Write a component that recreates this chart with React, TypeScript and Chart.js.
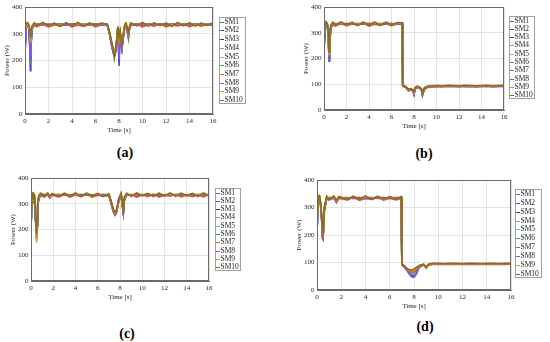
import React, { useEffect, useRef } from "react";
import { Chart, registerables } from "chart.js";
Chart.register(...registerables);

const SERIES_LABELS = ["SM1", "SM2", "SM3", "SM4", "SM5", "SM6", "SM7", "SM8", "SM9", "SM10"];
const SERIES_COLORS = ["#5468B4", "#3F4FD8", "#2E3A8C", "#8898E0", "#6CBEE6", "#3DAA3A", "#E8561C", "#8A4FE6", "#C9A227", "#8C6A1E"];
const X_TICKS = [0, 2, 4, 6, 8, 10, 12, 14, 16];
const Y_TICKS = [0, 100, 200, 300, 400];
const X_TITLE = "Time [s]";
const Y_TITLE = "Power (W)";

// ---------- panel (a) ----------
const T_A = [0,0.1,0.2,0.3,0.4,0.45,0.5,0.6,0.8,1,1.5,2,2.5,3,3.5,4,4.5,5,5.5,6,6.5,7,7.2,7.4,7.5,7.6,7.7,7.8,7.9,8,8.1,8.25,8.4,8.5,8.6,8.8,8.9,9,9.5,10,10.5,11,11.5,12,12.5,13,13.5,14,14.5,15,15.5,16];
const A_SM1 = [230,333,335,332,290,250,285,325,334,335,333,335,334,336,333,335,334,336,333,335,334,333,300,255,235,225,235,270,318,260,300,248,302,330,334,292,324,335,334,336,333,335,334,336,333,335,334,336,333,335,334,335];
const A_SM2 = [220,332,336,330,250,162,240,318,333,336,334,333,335,334,336,333,335,334,336,333,335,334,298,250,230,218,232,268,320,180,296,244,300,331,335,290,322,333,336,334,333,335,334,336,333,335,334,333,336,334,335,333];
const A_SM3 = [240,334,333,331,270,205,260,322,335,334,336,332,334,335,333,336,334,333,335,334,336,333,302,258,238,222,238,272,322,215,298,246,303,330,334,293,324,335,334,336,334,333,335,333,336,334,335,336,333,335,334,336];
const A_SM4 = [250,333,336,333,280,225,270,324,334,336,333,335,336,333,335,334,336,333,334,336,333,335,301,256,236,224,236,270,319,235,302,250,305,332,335,295,323,334,336,333,335,336,333,335,334,336,333,335,334,336,333,335];
const A_SM5 = [245,335,334,330,275,215,265,320,336,333,335,334,333,336,334,335,333,336,335,333,334,336,299,252,232,220,234,268,321,245,304,252,301,331,334,296,321,336,333,335,334,336,335,333,334,335,336,333,335,334,336,333];
const A_SM6 = [235,332,335,331,265,190,255,316,333,335,334,336,333,335,336,334,333,335,336,334,333,335,300,254,234,216,230,266,317,250,300,247,298,330,333,280,318,333,335,334,336,334,333,335,336,333,334,336,335,333,334,336];
const A_SM7 = [280,330,338,326,300,238,290,322,332,326,336,325,334,328,337,326,333,327,336,326,334,331,296,248,240,236,242,262,316,262,302,250,300,328,332,288,318,330,336,326,334,328,337,326,333,329,336,327,334,328,335,330];
const A_SM8 = [225,334,333,332,270,198,250,320,335,334,335,333,336,334,333,336,334,333,335,336,334,333,301,253,233,221,233,269,320,205,297,245,301,331,335,291,322,334,335,333,336,334,335,333,336,334,333,335,334,336,333,335];
const A_SM9 = [300,336,340,330,310,270,300,326,338,331,340,330,339,332,340,331,338,333,340,330,339,334,305,262,242,228,240,275,324,275,306,255,306,334,338,300,326,338,331,340,332,339,330,340,333,338,331,340,332,339,331,340];
const A_SM10 = [320,340,342,336,320,290,310,330,341,329,342,331,340,328,341,330,342,329,341,331,340,336,308,265,245,208,235,278,328,285,310,258,310,336,340,305,328,341,330,342,329,341,331,340,328,342,330,341,329,340,331,341];

// ---------- panel (b) ----------
const T_B = [0,0.1,0.2,0.3,0.4,0.45,0.5,0.6,0.8,1,1.5,2,2.5,3,3.5,4,4.5,5,5.5,6,6.5,6.95,7,7.1,7.3,7.5,7.7,7.9,8,8.1,8.3,8.5,8.65,8.75,8.9,9.1,9.5,10,10.5,11,11.5,12,12.5,13,13.5,14,14.5,15,15.5,16];
const B_SM1 = [240,322,336,331,265,200,255,322,335,334,336,333,335,334,336,333,335,334,336,333,335,334,94,92,88,78,80,76,66,83,90,86,81,62,81,88,91,92,91,93,92,91,93,92,91,92,93,91,92,93];
const B_SM2 = [230,320,335,330,255,190,250,318,334,336,333,335,334,336,333,335,334,336,333,335,334,336,93,91,87,76,79,75,60,82,89,85,80,58,80,87,92,91,93,92,91,93,92,91,93,92,91,93,92,91];
const B_SM3 = [250,324,334,332,270,205,260,324,336,333,335,334,336,333,335,336,333,335,334,336,333,335,95,93,89,79,81,77,64,84,91,87,82,60,82,89,91,93,92,91,93,92,91,93,92,91,93,92,91,92];
const B_SM4 = [245,321,337,330,262,198,258,321,334,335,334,336,333,335,334,333,336,334,335,333,336,334,92,92,88,77,80,76,65,83,90,86,81,61,81,88,92,92,91,93,92,91,92,93,91,92,93,91,93,92];
const B_SM5 = [255,323,335,331,268,202,262,323,335,334,333,335,336,334,333,335,334,336,333,335,334,333,94,91,87,78,81,77,67,84,89,85,80,63,80,87,91,93,92,91,93,92,91,92,93,91,92,93,92,91];
const B_SM6 = [235,320,336,329,260,195,252,319,333,336,335,333,334,336,335,334,333,335,336,334,335,336,93,92,88,77,79,75,63,82,90,86,81,59,81,88,92,91,93,92,91,93,92,91,92,93,91,92,93,92];
const B_SM7 = [290,318,338,326,280,210,270,316,332,326,336,327,334,329,337,326,333,328,336,327,334,331,92,90,86,74,78,73,62,80,88,84,79,57,79,86,90,91,90,92,91,90,92,91,90,91,92,90,91,92];
const B_SM8 = [238,322,334,332,266,196,256,321,335,333,334,336,335,333,334,336,335,333,334,336,333,335,94,92,88,78,80,76,61,83,90,86,81,60,81,88,91,92,93,91,92,93,91,92,91,93,92,91,92,93];
const B_SM9 = [280,326,340,334,285,215,275,326,339,331,340,330,339,332,340,331,338,333,340,330,339,338,95,94,90,80,82,78,68,86,92,88,83,64,84,90,93,94,93,95,94,93,95,94,93,94,95,93,94,95];
const B_SM10 = [300,330,342,336,295,225,285,330,341,329,342,331,340,328,341,330,342,329,341,331,340,339,96,94,90,81,83,79,70,87,93,89,84,66,85,91,94,95,94,96,95,94,96,95,94,95,96,94,95,96];

// ---------- panel (c) ----------
const T_C = [0,0.1,0.2,0.25,0.3,0.4,0.5,0.55,0.6,0.7,0.9,1.2,1.5,1.7,1.9,2.5,3,3.5,4,4.5,5,5.5,6,6.5,7,7.2,7.4,7.55,7.7,7.9,8.1,8.2,8.3,8.4,8.6,9,9.5,10,10.5,11,11.5,12,12.5,13,13.5,14,14.5,15,15.5,16];
const C_SM1 = [205,334,331,306,331,252,178,222,292,326,335,334,333,326,335,334,336,333,335,334,336,333,335,334,333,306,273,262,273,316,334,301,268,321,335,334,336,333,335,334,336,333,335,334,336,333,335,334,336,333];
const C_SM2 = [200,333,332,304,330,248,170,218,288,324,334,336,334,325,336,333,335,334,336,333,335,334,336,333,334,304,271,258,270,314,333,298,264,319,334,336,333,335,334,336,333,335,336,334,333,335,336,333,334,335];
const C_SM3 = [210,335,330,308,332,255,182,225,294,327,336,333,335,327,334,336,333,335,334,336,333,335,334,336,335,307,274,263,274,317,335,302,270,322,336,333,335,334,336,333,335,334,333,336,335,334,333,335,336,334];
const C_SM4 = [215,334,333,305,331,250,176,220,290,325,335,334,336,326,333,335,334,336,333,335,334,336,333,335,334,305,272,261,272,315,334,300,267,320,335,334,336,335,333,335,334,336,334,333,335,336,334,333,335,336];
const C_SM5 = [208,336,331,307,330,253,180,224,293,326,333,335,334,328,336,334,335,333,336,334,335,333,336,334,333,306,273,262,273,316,336,301,269,321,334,335,333,336,334,336,335,333,335,336,334,333,335,336,333,335];
const C_SM6 = [202,333,332,303,329,245,165,215,286,323,334,336,333,324,335,333,336,334,335,333,336,334,335,333,336,303,270,257,269,313,333,297,263,318,335,333,334,336,335,333,336,334,333,335,336,334,333,335,334,336];
const C_SM7 = [250,330,338,300,334,240,160,210,284,320,332,326,336,322,333,327,336,326,334,328,337,326,333,329,331,300,268,255,267,311,330,295,262,316,332,336,326,334,328,337,326,333,329,336,327,334,328,335,327,336];
const C_SM8 = [212,335,333,306,331,251,172,219,289,325,335,333,335,325,334,336,334,333,335,336,334,333,335,336,334,305,272,260,271,315,335,300,266,320,336,334,335,333,336,334,333,335,334,336,333,335,334,336,335,333];
const C_SM9 = [240,337,340,310,336,258,150,228,296,330,339,331,340,327,338,332,340,331,339,330,340,332,338,331,336,309,276,265,276,319,338,304,272,324,339,331,340,332,339,330,340,331,338,333,340,330,339,332,340,331];
const C_SM10 = [260,341,342,314,338,262,185,232,300,333,341,329,342,330,340,328,341,330,342,329,341,331,340,328,338,312,278,268,278,322,341,306,275,327,341,329,342,331,340,328,341,330,342,329,341,331,340,328,342,330];

// ---------- panel (d) ----------
const T_D = [0,0.1,0.2,0.3,0.4,0.45,0.5,0.6,0.8,1,1.4,1.6,1.8,2.5,3,3.5,4,4.5,5,5.5,6,6.5,6.95,7,7.2,7.4,7.6,7.8,8,8.2,8.4,8.6,8.8,9,9.2,9.5,10,10.5,11,11.5,12,12.5,13,13.5,14,14.5,15,15.5,16];
const D_SM1 = [212,337,339,311,252,198,194,292,335,334,336,322,334,336,333,335,334,336,333,335,334,336,335,93,86,76,68,60,58,68,84,90,92,84,93,94,95,94,95,94,95,94,95,94,95,94,95,94,95];
const D_SM2 = [208,336,340,309,248,192,188,288,334,336,335,320,335,334,336,333,335,334,336,333,335,334,336,92,85,74,62,52,50,62,82,89,92,82,92,94,95,95,94,95,94,95,95,94,95,95,94,95,94];
const D_SM3 = [215,338,338,312,255,200,196,294,336,333,334,323,336,333,335,334,336,333,335,334,336,333,334,93,86,75,64,55,54,65,83,90,91,83,93,95,94,95,95,94,95,95,94,95,94,95,95,94,95];
const D_SM4 = [210,337,341,310,250,196,192,290,335,335,336,321,333,335,334,336,333,335,334,336,333,335,336,92,86,75,66,58,56,66,84,89,92,84,92,94,95,94,94,95,95,94,95,95,94,94,95,95,94];
const D_SM5 = [218,336,339,313,256,202,198,295,334,336,333,324,335,336,333,334,335,336,334,333,335,336,333,93,87,76,69,62,60,69,85,90,91,85,93,95,94,94,95,95,94,94,95,94,95,95,94,94,95];
const D_SM6 = [205,338,340,308,246,190,186,286,336,334,335,319,334,333,336,335,334,333,336,334,336,334,335,92,85,75,68,63,62,70,85,89,92,83,93,94,95,95,94,94,95,95,94,95,95,94,94,95,95];
const D_SM7 = [240,334,342,305,245,186,182,284,332,327,336,318,334,328,337,326,333,329,336,327,334,328,333,91,83,72,67,66,68,74,84,88,90,80,91,93,94,93,94,93,94,93,94,93,94,93,94,93,94];
const D_SM8 = [213,337,338,311,253,197,190,291,335,333,334,322,336,335,334,336,333,335,334,336,333,335,334,92,84,72,58,48,46,58,80,88,91,84,92,95,94,95,94,95,95,94,94,95,95,94,95,94,95];
const D_SM9 = [230,339,341,315,258,205,200,298,339,331,340,325,339,332,340,331,338,333,340,330,339,332,338,94,88,78,72,70,74,80,87,91,93,79,94,96,96,95,96,96,95,96,96,95,96,96,95,96,96];
const D_SM10 = [250,341,342,318,262,210,205,302,341,329,342,327,340,328,341,330,342,329,341,331,340,330,340,95,89,79,74,73,76,82,88,92,94,82,95,97,97,96,97,97,96,97,97,96,97,97,96,97,97];

const FONT_FAMILY = '"Liberation Serif", "Times New Roman", serif';
const TEXT_COLOR = "#262626";
const GRID_COLOR = "#e4e4e4";
const AXIS_COLOR = "#6a6a6a";

const boxPlugin = {
  id: "axesBox",
  afterDraw(chart: any) {
    const { ctx, chartArea } = chart;
    ctx.save();
    ctx.strokeStyle = AXIS_COLOR;
    ctx.lineWidth = 1;
    ctx.strokeRect(
      Math.round(chartArea.left) + 0.5,
      Math.round(chartArea.top) + 0.5,
      Math.round(chartArea.right - chartArea.left) - 1,
      Math.round(chartArea.bottom - chartArea.top) - 1
    );
    ctx.restore();
  },
};

const legendPlugin = {
  id: "boxLegend",
  afterDraw(chart: any, _args: any, opts: any) {
    const { ctx } = chart;
    const [x0, y0, x1, y1] = opts.rect;
    ctx.save();
    ctx.fillStyle = "#ffffff";
    ctx.fillRect(x0, y0, x1 - x0, y1 - y0);
    ctx.strokeStyle = "#a0a0a0";
    ctx.lineWidth = 1;
    ctx.strokeRect(x0 + 0.5, y0 + 0.5, x1 - x0 - 1, y1 - y0 - 1);
    const ds = chart.data.datasets;
    const rowH = (y1 - y0) / ds.length;
    ctx.font = `7.5px ${FONT_FAMILY}`;
    ctx.textBaseline = "middle";
    ctx.textAlign = "left";
    ds.forEach((d: any, i: number) => {
      const cy = y0 + (i + 0.55) * rowH;
      const ly = Math.round(cy) + 0.5;
      ctx.strokeStyle = d.borderColor;
      ctx.lineWidth = 1;
      ctx.beginPath();
      ctx.moveTo(x0 + 1, ly);
      ctx.lineTo(x0 + 5, ly);
      ctx.stroke();
      ctx.fillStyle = TEXT_COLOR;
      ctx.fillText(d.label, x0 + 5.5, cy);
    });
    ctx.restore();
  },
};

type PanelProps = {
  time: number[];
  series: number[][];
  plot: [number, number, number, number];
  legend: [number, number, number, number];
};

function Panel({ time, series, plot, legend }: PanelProps) {
  const ref = useRef<HTMLCanvasElement>(null);
  const [l, t, r, b] = plot;
  const cLeft = l - 22;
  const cTop = t - 7;
  const cW = legend[2] + 3 - cLeft;
  const cH = b + 21 - cTop;

  useEffect(() => {
    if (!ref.current) return;
    const tickFont = { family: FONT_FAMILY, size: 7 };
    const chart = new Chart(ref.current, {
      type: "line",
      data: {
        datasets: series.map((vals, i) => ({
          label: SERIES_LABELS[i],
          data: time.map((x, j) => ({ x, y: vals[j] })),
          borderColor: SERIES_COLORS[i],
          backgroundColor: SERIES_COLORS[i],
          borderWidth: 1.6,
          pointRadius: 0,
          tension: 0,
          order: 9 - i,
        })),
      },
      options: {
        animation: false,
        responsive: false,
        maintainAspectRatio: false,
        devicePixelRatio: 1,
        layout: { padding: { left: 0, top: 7, right: cW - (r - cLeft), bottom: 1 } },
        plugins: {
          legend: { display: false },
          tooltip: { enabled: false },
          boxLegend: {
            rect: [legend[0] - cLeft, legend[1] - cTop, legend[2] - cLeft, legend[3] - cTop],
          },
        } as any,
        scales: {
          x: {
            type: "linear",
            min: 0,
            max: 16,
            afterBuildTicks: (s: any) => {
              s.ticks = X_TICKS.map((v) => ({ value: v }));
            },
            afterFit: (s: any) => {
              s.height = 20;
            },
            grid: { color: GRID_COLOR, drawTicks: false },
            border: { color: AXIS_COLOR },
            ticks: { padding: 3, font: tickFont, color: TEXT_COLOR, maxRotation: 0, autoSkip: false },
            title: { display: true, text: X_TITLE, padding: 0, font: tickFont, color: TEXT_COLOR },
          },
          y: {
            type: "linear",
            min: 0,
            max: 400,
            afterBuildTicks: (s: any) => {
              s.ticks = Y_TICKS.map((v) => ({ value: v }));
            },
            afterFit: (s: any) => {
              s.width = 22;
            },
            grid: { color: GRID_COLOR, drawTicks: false },
            border: { color: AXIS_COLOR },
            ticks: { padding: 2.5, font: tickFont, color: TEXT_COLOR, autoSkip: false },
            title: { display: true, text: Y_TITLE, padding: 0, font: tickFont, color: TEXT_COLOR },
          },
        },
      },
      plugins: [boxPlugin, legendPlugin],
    } as any);
    return () => chart.destroy();
  }, []);

  return (
    <canvas
      ref={ref}
      width={cW}
      height={cH}
      style={{ position: "absolute", left: cLeft, top: cTop, width: cW, height: cH }}
    />
  );
}

function Caption({ text, cx, cy }: { text: string; cx: number; cy: number }) {
  return (
    <div
      style={{
        position: "absolute",
        left: cx,
        top: cy,
        transform: "translate(-50%, -50%)",
        fontFamily: FONT_FAMILY,
        fontWeight: "bold",
        fontSize: 14,
        color: "#000",
        lineHeight: 1,
        whiteSpace: "nowrap",
      }}
    >
      {text}
    </div>
  );
}

export default function App() {
  return (
    <div
      style={{
        position: "absolute",
        left: 0,
        top: 0,
        width: 550,
        height: 342,
        background: "#ffffff",
        overflow: "hidden",
      }}
    >
      <Panel
        time={T_A}
        series={[A_SM1, A_SM2, A_SM3, A_SM4, A_SM5, A_SM6, A_SM7, A_SM8, A_SM9, A_SM10]}
        plot={[25, 7, 213, 114]}
        legend={[219, 17, 246, 104]}
      />
      <Panel
        time={T_B}
        series={[B_SM1, B_SM2, B_SM3, B_SM4, B_SM5, B_SM6, B_SM7, B_SM8, B_SM9, B_SM10]}
        plot={[324, 7, 504, 110]}
        legend={[509, 16, 535, 99]}
      />
      <Panel
        time={T_C}
        series={[C_SM1, C_SM2, C_SM3, C_SM4, C_SM5, C_SM6, C_SM7, C_SM8, C_SM9, C_SM10]}
        plot={[31, 178, 209, 281]}
        legend={[215, 188, 241, 271]}
      />
      <Panel
        time={T_D}
        series={[D_SM1, D_SM2, D_SM3, D_SM4, D_SM5, D_SM6, D_SM7, D_SM8, D_SM9, D_SM10]}
        plot={[317, 180, 511, 290]}
        legend={[515, 189, 542, 278]}
      />
      <Caption text="(a)" cx={125} cy={153} />
      <Caption text="(b)" cx={424} cy={154} />
      <Caption text="(c)" cx={127} cy={334} />
      <Caption text="(d)" cx={425} cy={327} />
    </div>
  );
}
